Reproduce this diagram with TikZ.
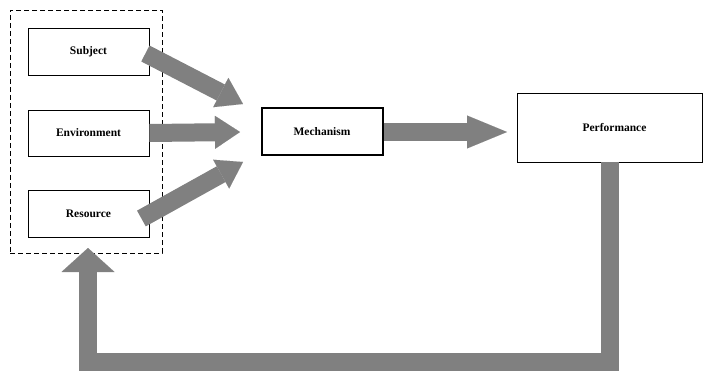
\documentclass[tikz,border=0pt]{standalone}
\usepackage{fontspec}
\setmainfont{Liberation Serif}
\usetikzlibrary{arrows.meta}
\begin{document}
\begin{tikzpicture}[x=1pt,y=-1pt,
  box/.style={draw=black, line width=0.8pt, fill=white, inner sep=0pt,
    font=\fontsize{11.5}{13}\selectfont\bfseries},
  fat/.style={draw=gray, line width=18pt, line join=miter},
  headA/.style={-{Triangle[width=33pt,length=25pt,line width=0.01pt]}},
  headB/.style={-{Triangle[width=33pt,length=40pt,line width=0.01pt]}},
  headC/.style={-{Triangle[width=53pt,length=24pt,line width=0.01pt]}}]
\useasboundingbox (0,0) rectangle (703,371);
\node[draw=black, line width=0.7pt, dash pattern=on 5pt off 3pt, minimum width=152pt, minimum height=243pt, inner sep=0pt] (grp) at (86,131.5) {};
\node[box, minimum width=121pt, minimum height=47pt] (subj) at (88.5,51.5) {Subject};
\node[box, minimum width=121pt, minimum height=46pt] (env) at (88.5,133) {Environment};
\node[box, minimum width=121pt, minimum height=47pt] (res) at (88.5,213.5) {Resource};
\node[box, line width=2pt, minimum width=121pt, minimum height=47pt] (mech) at (322,132) {Mechanism};
\node[box, line width=0.6pt, minimum width=185pt, minimum height=69pt, text width=185pt, align=center] (perf) at (609.5,127.5) {\hspace*{10pt}Performance};
\coordinate (t1) at (243,104);
\coordinate (t2) at (240,132);
\coordinate (t3) at (243,162);
\coordinate (t4) at (507,132);
\coordinate (fb) at (88,248);
\draw[fat, headA] ([xshift=-4pt,yshift=-2pt]subj.east) -- (t1);
\draw[fat, headA] (env.east) -- (t2);
\draw[fat, headA] ([xshift=-8pt,yshift=-5pt]res.east) -- (t3);
\draw[fat, headB] (mech.east) -- (t4);
\draw[fat, headC] ([xshift=0.5pt]perf.south) -- ++(0,200) -| (fb);
\end{tikzpicture}
\end{document}
